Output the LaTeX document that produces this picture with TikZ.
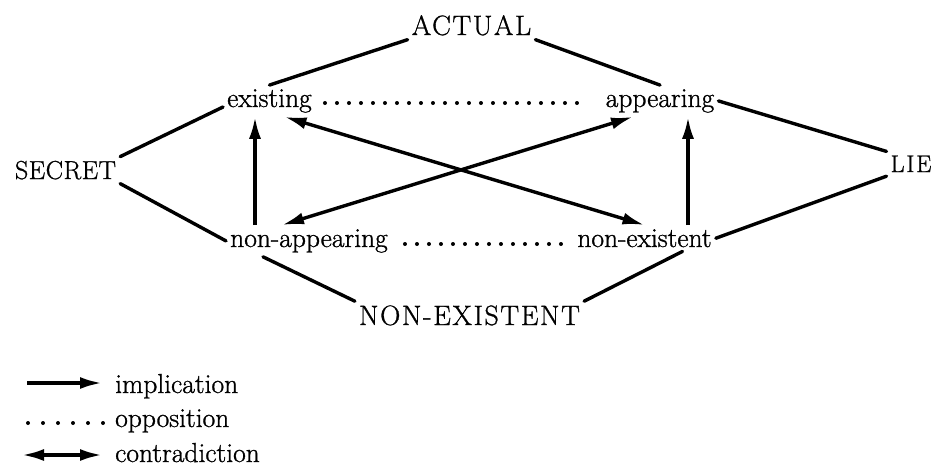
\documentclass[tikz,border=0pt]{standalone}
\usepackage{fontspec}
\newfontfamily\heavy{Latin Modern Roman}[FakeBold=1]
\usetikzlibrary{arrows.meta}
\begin{document}
\begin{tikzpicture}[x=1pt,y=-1pt,
  lab/.style={font=\heavy\fontsize{27.5}{30}\selectfont, inner sep=4pt, anchor=base},
  caps/.style={font=\heavy\fontsize{28}{30}\selectfont\addfontfeature{LetterSpace=#1}, inner sep=4pt, anchor=base},
  leg/.style={font=\heavy\fontsize{27.5}{30}\selectfont, inner sep=4pt, anchor=base west},
  tip/.tip={Latex[length=22pt,width=12pt]},
  link/.style={line width=3.4pt, line cap=round},
  imp/.style={line width=3.4pt, -tip},
  contra/.style={line width=3.4pt, tip-tip},
  opp/.style={line width=4pt, line cap=round, dash pattern=on 0pt off #1},
  opp/.default=12pt]
\useasboundingbox (0,0) rectangle (935,466);

% nodes
\node[caps=6] (actual) at (471.5,35) {ACTUAL};
\node[lab] (existing) at (269.5,107) {existing};
\node[lab] (appearing) at (660,107) {appearing};
\node[font=\heavy\fontsize{26}{30}\selectfont\addfontfeature{LetterSpace=2}, inner sep=4pt, anchor=base] (secret) at (65.5,179) {SECRET};
\node[font=\heavy\fontsize{24}{30}\selectfont\addfontfeature{LetterSpace=8}, inner sep=4pt, anchor=base] (lie) at (911,172) {LIE};
\node[lab] (nonapp) at (309,247) {non-appearing};
\node[lab] (nonex) at (644.5,247) {non-existent};
\node[caps=6] (nonexist) at (469.5,325) {NON-EXISTENT};

% plain links
\draw[link] (actual.south west) -- (existing.north);
\draw[link] (actual.south east) -- (appearing.north);
\draw[link] (secret.north east) -- (existing.base west);
\draw[link] (secret.south east) -- (nonapp.west);
\draw[link] (appearing.east) -- (lie.north west);
\draw[link] (nonex.east) -- (lie.south west);
\draw[link] ([xshift=-46pt]nonapp.south) -- (nonexist.north west);
\draw[link] ([xshift=38pt]nonex.south) -- (nonexist.north east);

% implications
\draw[imp] ([xshift=-54pt]nonapp.north) -- ([xshift=-54pt]nonapp.north |- existing.south);
\draw[imp] ([xshift=43.5pt]nonex.north) -- ([xshift=43.5pt]nonex.north |- appearing.south);

% contradictions
\draw[contra] ([xshift=15pt]existing.south) -- (nonex.north);
\draw[contra] ([xshift=-27pt]appearing.south) -- ([xshift=-27pt]nonapp.north);

% oppositions
\draw[opp, shorten <=9pt, shorten >=18pt] ([yshift=4pt]existing.base east) -- ([yshift=4pt]appearing.base west);
\draw[opp, shorten <=13pt, shorten >=10pt] ([yshift=3pt]nonapp.base east) -- ([yshift=3pt]nonex.base west);

% legend
\node[leg] (limp) at (111,393) {implication};
\node[leg] (lopp) at (111,427) {opposition};
\node[leg] (lcon) at (111,462) {contradiction};
\coordinate (limps) at (27,383);
\coordinate (lopps) at (28,423);
\coordinate (lcons) at (22,455);
\draw[imp] (limps) -- ([xshift=-9pt]limps -| limp.west);
\draw[opp=15pt] (lopps) -- ([xshift=-6pt]lopps -| lopp.west);
\draw[contra] (lcons) -- ([xshift=-9pt]lcons -| lcon.west);
\end{tikzpicture}
\end{document}
